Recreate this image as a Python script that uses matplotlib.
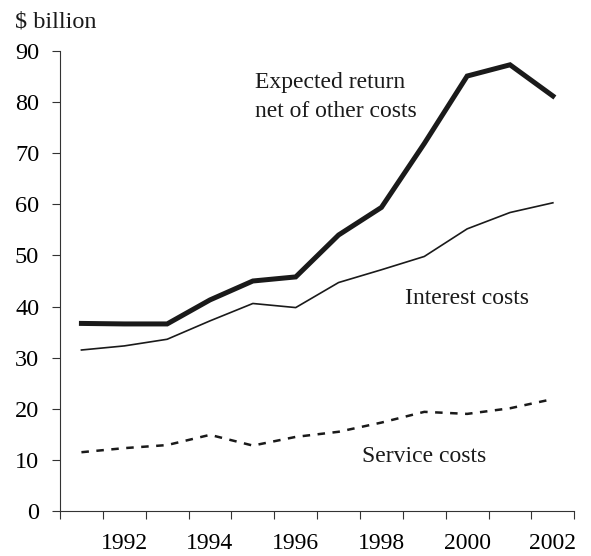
import matplotlib
matplotlib.use("Agg")
import matplotlib.pyplot as plt
import numpy as np

plt.rcParams["font.family"] = ["Liberation Serif", "DejaVu Serif"]

years = [1991, 1992, 1993, 1994, 1995, 1996, 1997, 1998, 1999, 2000, 2001, 2002]
expected_return = [36.7, 36.6, 36.6, 41.3, 45.0, 45.8, 54.0, 59.4, 71.9, 85.1, 87.3, 81.2]
interest_costs = [31.5, 32.3, 33.6, 37.2, 40.6, 39.8, 44.7, 47.2, 49.8, 55.2, 58.4, 60.3]
service_costs = [11.5, 12.3, 12.9, 14.9, 12.8, 14.5, 15.5, 17.3, 19.4, 19.0, 20.1, 21.9]
label_years = [1992, 1994, 1996, 1998, 2000, 2002]
y_ticks = [0, 10, 20, 30, 40, 50, 60, 70, 80, 90]

fig = plt.figure(figsize=(5.91, 5.56), dpi=100)
ax = fig.add_axes([60 / 591, 45 / 556, 514.3 / 591, 460 / 556])

ax.plot(years, expected_return, color="#1a1a1a", linewidth=3.6, solid_joinstyle="miter")
ax.plot(years, interest_costs, color="#1a1a1a", linewidth=1.2)
ax.plot(years, service_costs, color="#1a1a1a", linewidth=1.8, dashes=(3, 3.0))

ax.set_xlim(years[0] - 0.5, years[-1] + 0.5)
ax.set_ylim(0, 90)

# tick marks on year boundaries, labels centred on the years
ax.set_xticks(np.arange(years[0] - 0.5, years[-1] + 1.0, 1.0))
ax.set_xticklabels([])
ax.set_xticks(label_years, minor=True)
ax.set_xticklabels([str(y) for y in label_years], minor=True)
ax.tick_params(axis="x", which="major", direction="out", length=5.5, width=0.8, color="#333333")
ax.tick_params(axis="x", which="minor", length=0, pad=16, labelsize=17)

ax.set_yticks(y_ticks)
ax.tick_params(axis="y", direction="out", length=6, width=0.8, pad=9, labelsize=17.5, color="#333333")

for side in ("top", "right"):
    ax.spines[side].set_visible(False)
for side in ("left", "bottom"):
    ax.spines[side].set_linewidth(0.8)
    ax.spines[side].set_color("#333333")

fig.text(15 / 591, 1 - 22 / 556, "$ billion", fontsize=17.5, va="center", ha="left", color="#1a1a1a")
ax.text(1995.05, 81.0, "Expected return\nnet of other costs", fontsize=17, va="center", ha="left",
        linespacing=1.55, color="#1a1a1a")
ax.text(1998.55, 41.6, "Interest costs", fontsize=17, va="center", ha="left", color="#1a1a1a")
ax.text(1997.55, 10.6, "Service costs", fontsize=17, va="center", ha="left", color="#1a1a1a")

fig.savefig("out.png", dpi=100)
